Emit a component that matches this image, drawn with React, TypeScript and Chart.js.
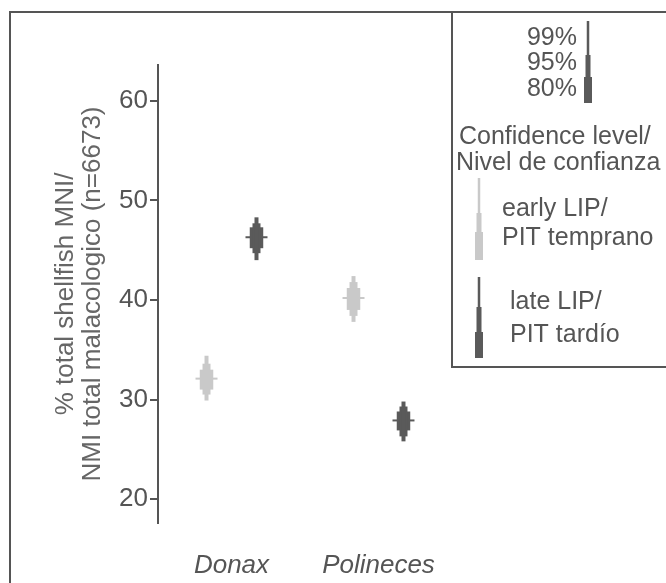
import React, { useEffect, useRef } from 'react';
import { Chart, registerables } from 'chart.js';

Chart.register(...registerables);

// ---- data ----
const categories = ['Donax', 'Polineces'];
const yTicks = [20, 30, 40, 50, 60];
const yMin = 17.6;
const yMax = 63.6;

// early LIP / PIT temprano
const earlyMean = [32.0, 40.1];
const earlyLo99 = [29.9, 37.8];
const earlyHi99 = [34.4, 42.4];
const earlyLo95 = [30.5, 38.4];
const earlyHi95 = [33.6, 41.8];
const earlyLo80 = [31.0, 39.0];
const earlyHi80 = [33.0, 41.2];

// late LIP / PIT tardío
const lateMean = [46.2, 27.8];
const lateLo99 = [44.0, 25.8];
const lateHi99 = [48.3, 29.8];
const lateLo95 = [44.7, 26.3];
const lateHi95 = [47.7, 29.3];
const lateLo80 = [45.2, 26.9];
const lateHi80 = [47.3, 28.8];

const yTitle = ['% total shellfish MNI/', 'NMI total malacologico (n=6673)'];

// ---- styles ----
const FONT = '"Liberation Sans", Arial, Helvetica, sans-serif';
const DARK = '#5a5a5a';
const LIGHT = '#c9c9c9';
const AXIS = '#555555';
const TEXT = '#555555';
const CAT_PCT = 0.68;

function rangeSet(label: string, lo: number[], hi: number[], color: string, stack: string, pct: number) {
  return {
    type: 'bar' as const,
    label,
    data: lo.map((l, i) => [l, hi[i]]),
    backgroundColor: color,
    borderWidth: 0,
    stack,
    barPercentage: pct,
    categoryPercentage: CAT_PCT,
  };
}

function meanSet(label: string, mean: number[], color: string, stack: string) {
  return {
    type: 'bar' as const,
    label,
    data: mean.map((m) => [m, m]),
    backgroundColor: color,
    borderWidth: 0,
    stack,
    minBarLength: 2,
    barPercentage: 0.44,
    categoryPercentage: CAT_PCT,
  };
}

function glyph(ctx: CanvasRenderingContext2D, x: number, y0: number, y1: number, y2: number, y3: number, color: string) {
  ctx.fillStyle = color;
  ctx.fillRect(x - 1.25, y0, 2.5, y1 - y0);
  ctx.fillRect(x - 2.5, y1, 5, y2 - y1);
  ctx.fillRect(x - 4, y2, 8, y3 - y2);
}

const decor = {
  id: 'decor',
  beforeDraw(chart: any) {
    const { ctx, width, height } = chart;
    ctx.save();
    ctx.fillStyle = '#ffffff';
    ctx.fillRect(0, 0, width, height);
    ctx.strokeStyle = AXIS;
    ctx.lineWidth = 2;
    // outer frame
    ctx.beginPath();
    ctx.moveTo(10, height + 10);
    ctx.lineTo(10, 12);
    ctx.lineTo(width + 10, 12);
    ctx.stroke();
    // legend box
    ctx.beginPath();
    ctx.moveTo(452, 12);
    ctx.lineTo(452, 367);
    ctx.lineTo(width + 10, 367);
    ctx.stroke();

    // legend contents
    ctx.fillStyle = TEXT;
    ctx.font = `25px ${FONT}`;
    ctx.textBaseline = 'middle';
    ctx.textAlign = 'right';
    ctx.fillText('99%', 577, 38);
    ctx.fillText('95%', 577, 63);
    ctx.fillText('80%', 577, 89);
    glyph(ctx, 588, 21, 55, 77, 103, DARK);
    ctx.fillStyle = TEXT;
    ctx.textAlign = 'left';
    ctx.fillText('Confidence level/', 459, 137);
    ctx.fillText('Nivel de confianza', 456, 163);
    ctx.fillText('early LIP/', 502, 209);
    ctx.fillText('PIT temprano', 502, 238);
    ctx.fillText('late LIP/', 510, 302);
    ctx.fillText('PIT tardío', 510, 335);
    glyph(ctx, 479, 178, 213, 232, 260, LIGHT);
    glyph(ctx, 479, 277, 307, 332, 358, DARK);
    ctx.restore();
  },
};

export default function App() {
  const ref = useRef<HTMLCanvasElement>(null);

  useEffect(() => {
    document.body.style.margin = '0';
    const canvas = ref.current;
    if (!canvas) return;
    const chart = new Chart(canvas, {
      type: 'bar',
      data: {
        labels: categories,
        datasets: [
          rangeSet('early 99%', earlyLo99, earlyHi99, LIGHT, 'early', 0.08),
          rangeSet('early 95%', earlyLo95, earlyHi95, LIGHT, 'early', 0.16),
          rangeSet('early 80%', earlyLo80, earlyHi80, LIGHT, 'early', 0.27),
          meanSet('early mean', earlyMean, LIGHT, 'early'),
          rangeSet('late 99%', lateLo99, lateHi99, DARK, 'late', 0.08),
          rangeSet('late 95%', lateLo95, lateHi95, DARK, 'late', 0.16),
          rangeSet('late 80%', lateLo80, lateHi80, DARK, 'late', 0.27),
          meanSet('late mean', lateMean, DARK, 'late'),
        ] as any,
      },
      options: {
        responsive: false,
        animation: false,
        devicePixelRatio: 1,
        layout: { padding: { top: 65, right: 214, bottom: 0, left: 0 } },
        plugins: {
          legend: { display: false },
          tooltip: { enabled: false },
        },
        scales: {
          x: {
            type: 'category',
            offset: true,
            grid: { display: false, drawTicks: false },
            border: { display: false },
            ticks: {
              color: TEXT,
              padding: 27,
              font: { family: FONT, size: 26, style: 'italic' },
            },
            afterFit: (s: any) => {
              s.height = 60;
            },
          },
          y: {
            type: 'linear',
            min: yMin,
            max: yMax,
            stacked: false,
            afterBuildTicks: (s: any) => {
              s.ticks = yTicks.map((v) => ({ value: v }));
            },
            grid: {
              drawOnChartArea: false,
              color: AXIS,
              lineWidth: 2,
              tickLength: 8,
            },
            border: { display: true, color: AXIS, width: 2 },
            ticks: {
              color: TEXT,
              padding: 2,
              font: { family: FONT, size: 26 },
            },
            title: {
              display: true,
              text: yTitle,
              color: '#666666',
              font: { family: FONT, size: 26, lineHeight: 1.05 },
              padding: { top: 52, bottom: 0 },
            },
            afterFit: (s: any) => {
              s.width = 158;
            },
          },
        },
      } as any,
      plugins: [decor],
    });
    return () => chart.destroy();
  }, []);

  return <canvas ref={ref} width={666} height={583} style={{ display: 'block' }} />;
}
